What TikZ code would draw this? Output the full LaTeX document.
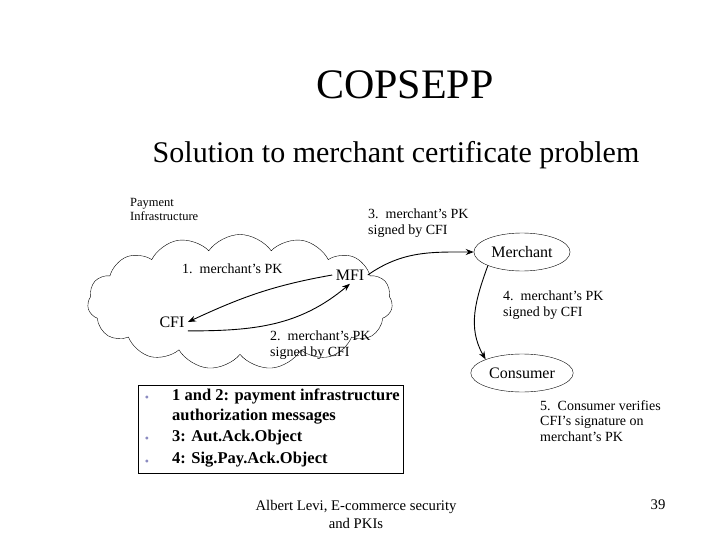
\documentclass[tikz,border=0pt]{standalone}
\usepackage{fontspec}
\setmainfont{Liberation Serif}
\usetikzlibrary{shapes.symbols,shapes.geometric,arrows.meta}
\begin{document}
\begin{tikzpicture}[x=1pt,y=-1pt,
  lbl/.style={font=\fontsize{14}{15.5}\selectfont,align=left,inner sep=0},
  ell/.style={draw,ellipse,minimum width=90,minimum height=38,font=\fontsize{16}{18}\selectfont},
  arr/.style={-{Stealth[length=8pt,width=6pt]},line width=0.9pt}]
\useasboundingbox (0,0) rectangle (720,540);
\node[font=\fontsize{42}{46}\selectfont] (title) at (405,85) {COPSEPP};
\node[font=\fontsize{30}{34}\selectfont] (sub) at (396,155) {Solution to merchant certificate problem};
\node[lbl,anchor=north west,font=\fontsize{12.5}{14.5}\selectfont] (pi) at (130,198) {Payment\\Infrastructure};
\node[cloud,draw,cloud puffs=15,cloud puff arc=110,minimum width=305,minimum height=135,aspect=2.3] (cloud) at (240,302) {};
\node[font=\fontsize{16}{18}\selectfont] (mfi) at (350,275) {MFI};
\node[font=\fontsize{16}{18}\selectfont] (cfi) at (172,322) {CFI};
\node[ell] (mer) at (522,252) {Merchant};
\node[ell] (con) at (522,373) {Consumer};
\node[lbl,anchor=west] (l1) at (182,269) {1.\ \ merchant's PK};
\node[lbl,anchor=north west] (l2) at (270,331) {2.\ \ merchant's PK\\signed by CFI};
\node[lbl,anchor=north west] (l3) at (368,209) {3.\ \ merchant's PK\\signed by CFI};
\node[lbl,anchor=north west] (l4) at (503,291) {4.\ \ merchant's PK\\signed by CFI};
\node[lbl,anchor=north west] (l5) at (540,400) {5.\ \ Consumer verifies\\CFI's signature on\\merchant's PK};
\draw[arr] (mfi.west) to[out=190,in=25] (cfi.east);
\draw[arr] (cfi.south east) to[out=0,in=220] (mfi.south);
\draw[arr] (mfi.east) to[out=35,in=180] (mer.west);
\draw[arr] (mer.south west) to[out=250,in=120] (con.north west);
\node[draw,thick,anchor=north west,minimum width=265,minimum height=88,inner sep=0] (box) at (138,385) {};
\node[anchor=north west,align=left,font=\bfseries\fontsize{16.5}{19.5}\selectfont,inner sep=0] (btext) at (172,389)
 {1 and 2: payment infrastructure\\authorization messages\\[2pt]3: Aut.Ack.Object\\[2pt]4: Sig.Pay.Ack.Object};
\foreach \yy in {399,440,463} \node[text=blue!30!gray!70,font=\fontsize{12}{12}\selectfont] at (147,\yy) {•};
\node[font=\fontsize{14.7}{18}\selectfont,align=center] (foot) at (356,514) {Albert Levi, E-commerce security\\and PKIs};
\node[font=\fontsize{14.7}{17}\selectfont] (num) at (658,505) {39};
\end{tikzpicture}
\end{document}
